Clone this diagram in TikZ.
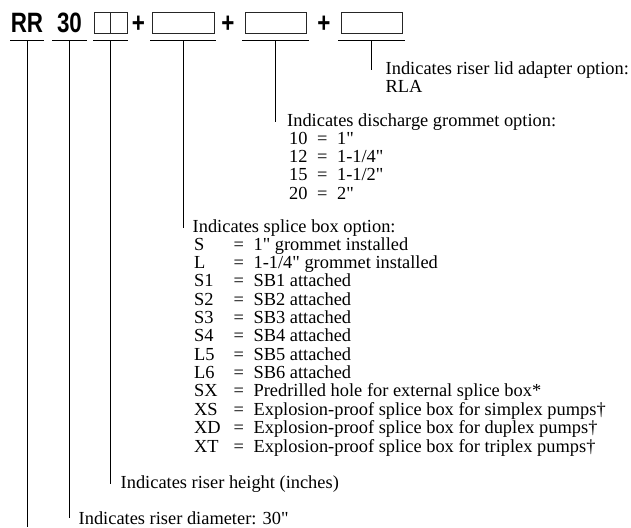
\documentclass[tikz,border=0pt]{standalone}
\usepackage{fontspec}
\setmainfont{Liberation Serif}[Ligatures=TeXOff]
\newfontfamily\codefont[FakeStretch=0.8]{Liberation Sans}
\usetikzlibrary{positioning}

\begin{document}
\begin{tikzpicture}[
	x=1pt,
	y=-1pt,
	inner sep=0pt,
	font=\fontsize{18.4}{18.3}\selectfont,
	thin
]

\tikzstyle{code}   = [font=\codefont\bfseries\fontsize{28}{28}\selectfont, anchor=base];
\tikzstyle{slot}   = [minimum height=0pt, outer sep=0pt];
\tikzstyle{optbox} = [draw, black!85, line width=0.8pt, minimum height=21pt, outer sep=0pt];
\tikzstyle{uline}  = [line width=1.2pt];
\tikzstyle{lead}   = [line width=0.9pt];
\tikzstyle{note}   = [anchor=base west];

\useasboundingbox (0,0) rectangle (631,527);

% underlined slots of the order code
 \node [slot, minimum width=34pt] (s_rr) at (27,40.5)    {};
 \node [slot, minimum width=35pt] (s_30) at (69.5,40.5)  {};
 \node [slot, minimum width=35pt] (s_ht) at (110.5,40.5) {};
 \node [slot, minimum width=66pt] (s_sb) at (183,40.5)   {};
 \node [slot, minimum width=67pt] (s_dg) at (275.5,40.5) {};
 \node [slot, minimum width=67pt] (s_la) at (371.5,40.5) {};

 \node [code]                         (c_rr)  [above=7.5pt of s_rr]  {RR};
 \node [code]                         (c_30)  [above=7.5pt of s_30]  {30};
 \node [optbox, minimum width=16.5pt] (b_ht1) at (102.25,23)         {};
 \node [optbox, minimum width=16.5pt] (b_ht2) [right=0pt of b_ht1]   {};
 \node [optbox, minimum width=62pt]   (b_sb)  [above=7pt of s_sb]    {};
 \node [optbox, minimum width=61pt]   (b_dg)  [above=7pt of s_dg]    {};
 \node [optbox, minimum width=61pt]   (b_la)  [above=7pt of s_la]    {};
 \node [code]                         (p_1)   at (138.5,33)          {+};
 \node [code]                         (p_2)   at (228,33)            {+};
 \node [code]                         (p_3)   at (324,33)            {+};

\foreach \s in {s_rr, s_30, s_ht, s_sb, s_dg, s_la}
	\draw [uline] (\s.west) -- (\s.east);

% notes
 \node [note] (t_la)  at (385.5,74.4) {Indicates riser lid adapter option:};
 \node [note] (t_rla) at (385.5,92.7) {RLA};
 \node [note] (t_dg)  at (287,126)    {Indicates discharge grommet option:};
 \node [note] (l_dg)  at (289,144.3)  {\begin{tabular}[t]{@{}p{28pt}@{}l@{\hspace{9.5pt}}l@{}}
	10 & = & 1" \\
	12 & = & 1-1/4" \\
	15 & = & 1-1/2" \\
	20 & = & 2"
 \end{tabular}};
 \node [note] (t_sb)  at (192.5,232)  {Indicates splice box option:};
 \node [note] (l_sb)  at (194,250.3)  {\begin{tabular}[t]{@{}p{39.5pt}@{}l@{\hspace{9.5pt}}l@{}}
	S  & = & 1" grommet installed \\
	L  & = & 1-1/4" grommet installed \\
	S1 & = & SB1 attached \\
	S2 & = & SB2 attached \\
	S3 & = & SB3 attached \\
	S4 & = & SB4 attached \\
	L5 & = & SB5 attached \\
	L6 & = & SB6 attached \\
	SX & = & Predrilled hole for external splice box* \\
	XS & = & Explosion-proof splice box for simplex pumps† \\
	XD & = & Explosion-proof splice box for duplex pumps† \\
	XT & = & Explosion-proof splice box for triplex pumps†
 \end{tabular}};
 \node [note] (t_ht)  at (120.5,488.2) {Indicates riser height (inches)};
 \node [note] (t_dia) at (78.5,524.5)  {Indicates riser diameter: 30"};

 \coordinate (e_rr) at (27,527);

 \path [lead] (s_rr.south) edge (e_rr)
              (s_30.south) edge (s_30.south |- t_dia.west)
              (s_ht.south) edge (s_ht.south |- t_ht.west)
              (s_sb.south) edge (s_sb.south |- t_sb.west)
              (s_dg.south) edge (s_dg.south |- t_dg.west)
              (s_la.south) edge (s_la.south |- t_la.west);

\end{tikzpicture}
\end{document}
